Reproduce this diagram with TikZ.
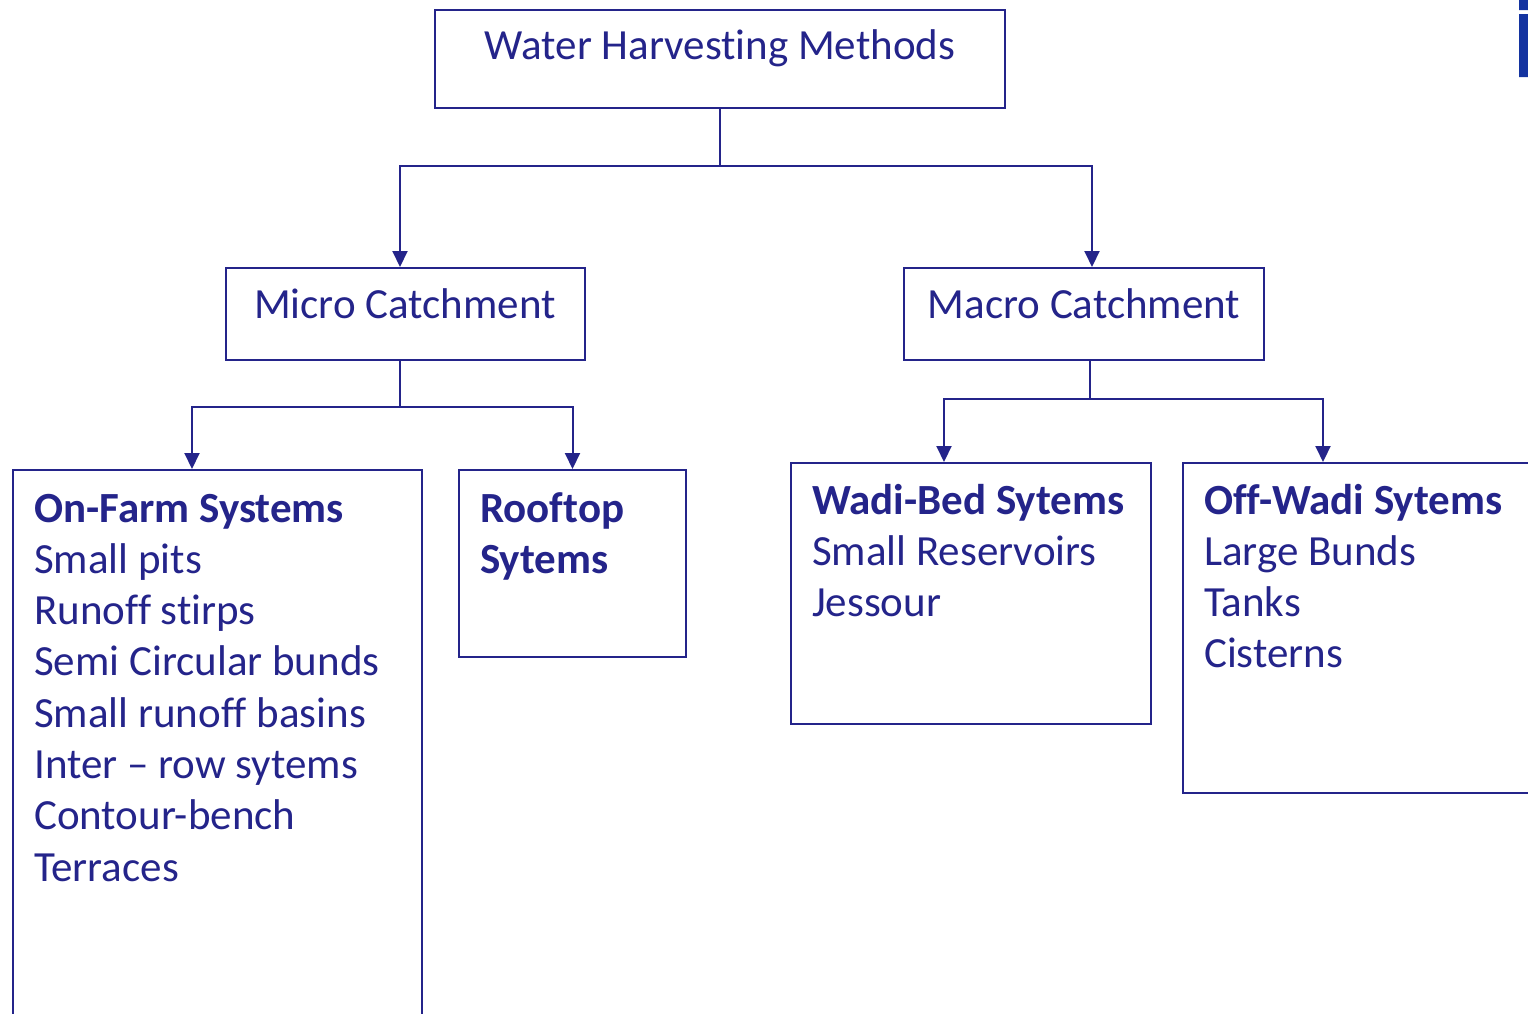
\documentclass[tikz,border=0pt]{standalone}
\usepackage{fontspec}
\setmainfont[Ligatures=NoCommon]{Carlito}
\usetikzlibrary{arrows.meta,positioning}
\definecolor{navy}{RGB}{36,36,138}
\definecolor{barblue}{RGB}{20,52,160}

\begin{document}
\begin{tikzpicture}[x=1pt,y=-1pt,
	box/.style={draw=navy,line width=2pt,inner sep=0pt},
	head text/.style={font=\fontsize{43}{52}\selectfont,text=navy,inner sep=0pt,anchor=base},
	item text/.style={font=\fontsize{43}{52}\selectfont,text=navy,inner sep=0pt,anchor=base west},
	link/.style={draw=navy,line width=2pt,-{Triangle[length=16pt,width=15pt]}}]
	\useasboundingbox (0,0) rectangle (1528,1013);
	\fill[barblue] (1519,0) rectangle (1528,10) (1519,14) rectangle (1528,77);
	% boxes
	\node[box,minimum width=570pt,minimum height=98pt] (top) at (720,59) {};
	\node[box,minimum width=359pt,minimum height=92pt] (micro) at (405.5,314) {};
	\node[box,minimum width=360pt,minimum height=92pt] (macro) at (1084,314) {};
	\node[box,minimum width=409pt,minimum height=600pt] (onfarm) at (217.5,770) {};
	\node[box,minimum width=227pt,minimum height=187pt] (roof) at (572.5,563.5) {};
	\node[box,minimum width=360pt,minimum height=261pt] (wadi) at (971,593.5) {};
	\node[box,minimum width=400pt,minimum height=330pt] (offwadi) at (1383,628) {};
	% labels
	\node[head text] (top-t) at (720,59) {Water Harvesting Methods};
	\node[head text] (micro-t) at (405,318) {Micro Catchment};
	\node[head text] (macro-t) at (1084,318) {Macro Catchment};
	\foreach \txt [count=\i from 0] in {\bfseries On-Farm Systems,Small pits,Runoff stirps,Semi Circular bunds,Small runoff basins,Inter -- row sytems,Contour-bench,Terraces}
		\node[item text] (onfarm-\i) at (34,522+51.3*\i) {\txt};
	\foreach \txt [count=\i from 0] in {Rooftop,Sytems}
		\node[item text,font=\fontsize{43}{52}\selectfont\bfseries] (roof-\i) at (480,522+51.3*\i) {\txt};
	\foreach \txt [count=\i from 0] in {\bfseries Wadi-Bed Sytems,Small Reservoirs,Jessour}
		\node[item text] (wadi-\i) at (812,514+51.3*\i) {\txt};
	\foreach \txt [count=\i from 0] in {\bfseries Off-Wadi Sytems,Large Bunds,Tanks,Cisterns}
		\node[item text] (offwadi-\i) at (1204,514+51.3*\i) {\txt};
	% connectors
	\draw[link] (top.south) -- ++(0,57) -| ([xshift=-5.5pt]micro.north);
	\draw[link] (top.south) -- ++(0,57) -| ([xshift=8pt]macro.north);
	\draw[link] ([xshift=-5.5pt]micro.south) -- ++(0,46) -| ([xshift=-25.5pt]onfarm.north);
	\draw[link] ([xshift=-5.5pt]micro.south) -- ++(0,46) -| (roof.north);
	\draw[link] ([xshift=6pt]macro.south) -- ++(0,38) -| ([xshift=-27pt]wadi.north);
	\draw[link] ([xshift=6pt]macro.south) -- ++(0,38) -| ([xshift=-60pt]offwadi.north);
\end{tikzpicture}
\end{document}
